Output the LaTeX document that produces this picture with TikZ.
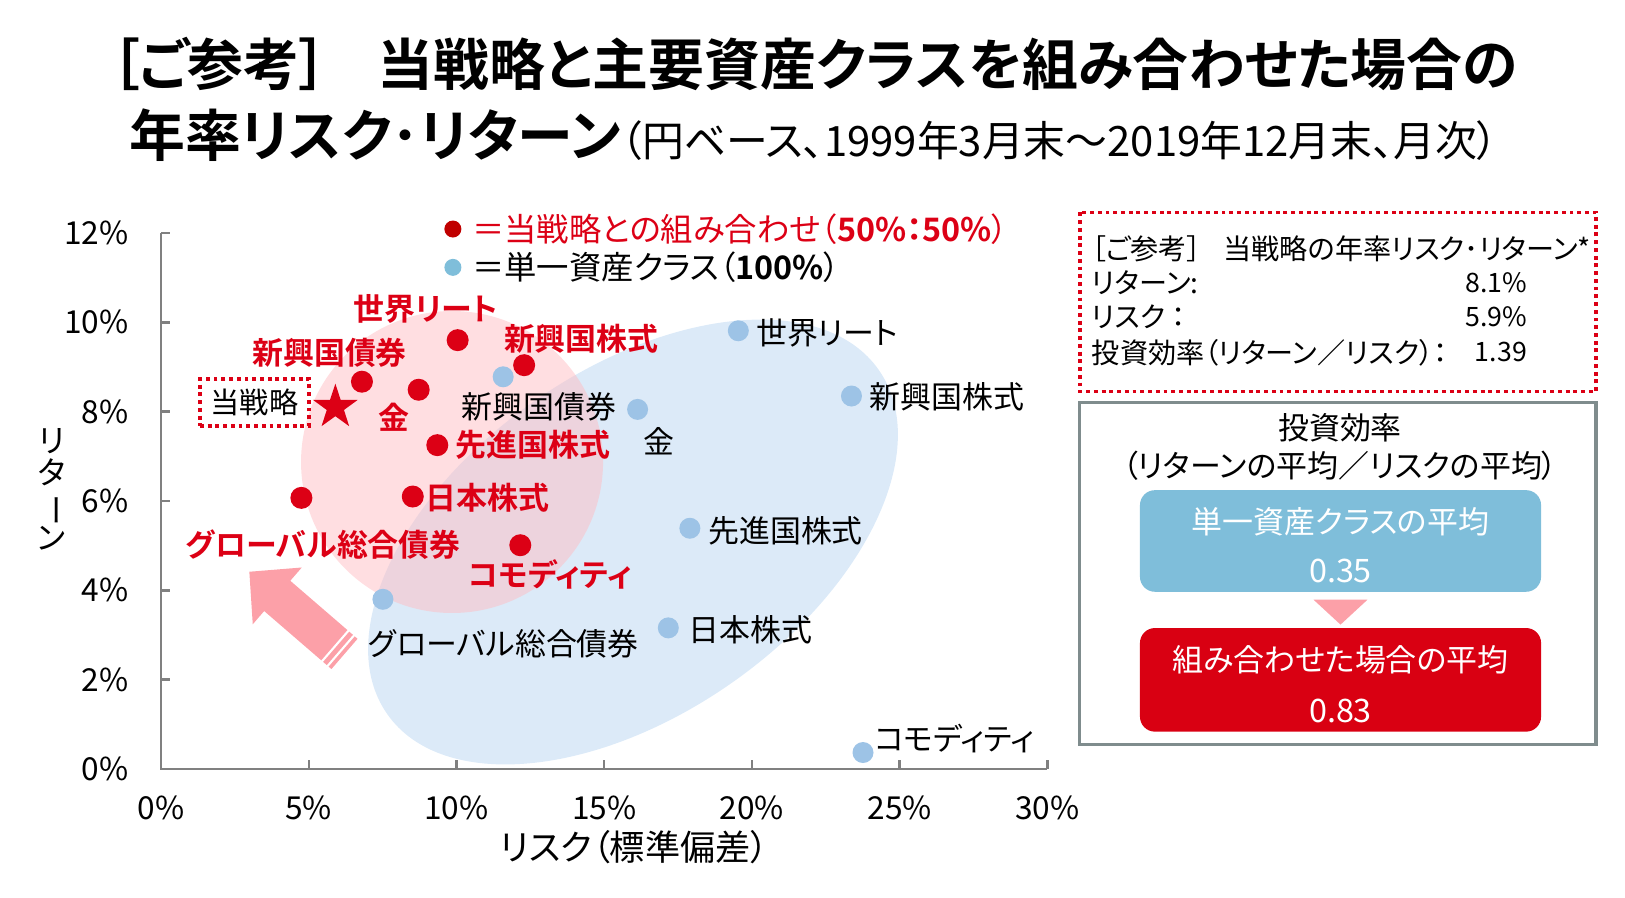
\documentclass[tikz,border=0pt]{standalone}
\usepackage{fontspec}
\setmainfont{Noto Sans CJK JP}[BoldFont={Noto Sans CJK JP Bold}, RawFeature=+palt]
\usetikzlibrary{calc,positioning,shapes.geometric}
\definecolor{aka}{RGB}{220,0,21}
\definecolor{akahanrei}{RGB}{192,0,0}
\definecolor{ao}{RGB}{157,195,230}
\definecolor{aobox}{RGB}{127,190,218}
\definecolor{akabox}{RGB}{217,0,18}
\definecolor{momo}{RGB}{252,160,168}
\definecolor{enao}{RGB}{220,234,248}
\definecolor{enaka}{RGB}{255,189,195}
\definecolor{jikuiro}{RGB}{128,128,128}
\definecolor{waku}{RGB}{127,140,141}
\newcommand{\jsz}[1]{\fontsize{#1pt}{#1pt}\selectfont}

\begin{document}
\begin{tikzpicture}[x=0.010363cm, y=-0.010363cm,
    jiku/.style={draw=jikuiro, line width=0.7pt},
    rten/.style={circle, fill=aka, inner sep=0pt, minimum size=0.22cm},
    bten/.style={circle, fill=ao, inner sep=0pt, minimum size=0.21cm},
    kuro/.style={inner sep=0pt, font=\jsz{8.8}},
    akaji/.style={inner sep=0pt, text=aka, font=\jsz{8.8}\bfseries},
    xl/.style={inner sep=0pt, yshift=-0.39cm, font=\jsz{9}},
    yl/.style={inner sep=0pt, anchor=east, xshift=-0.32cm, font=\jsz{9}},
    pan/.style={inner sep=0pt, anchor=west, font=\jsz{8}},
    atai/.style={inner sep=0pt, anchor=east, font=\jsz{7.6}},
    shiro/.style={inner sep=0pt, text=white},
    tenwaku/.style={draw=aka, line width=1pt, dash pattern=on 1.1pt off 1.1pt}]
    \useasboundingbox (0,0) rectangle (1568,865.6);

    % タイトル
    \node[font=\jsz{15.9}\bfseries] (t1) at (786,62) {［ご参考］\hspace{0.9em}当戦略と主要資産クラスを組み合わせた場合の};
    \node (t2) at (785,130) {{\jsz{15.9}\bfseries 年率リスク･リターン}{\jsz{11.9}（円ベース、1999年3月末～2019年12月末、月次）}};

    % 楕円
    \fill[enao, rotate around={35:(610.8,523)}] (610.8,523) ellipse [x radius=289.5, y radius=166];
    \fill[enaka, opacity=0.5] (436.2,445.8) circle [radius=145.7];

    % 矢印
    \fill[momo] (240.6,551.7) -- (291.2,547.6) -- (280.1,560.4) -- (345.0,616.4)
        -- (319.8,645.6) -- (254.9,589.6) -- (243.9,602.4) -- cycle;
    \draw[white, line width=0.6pt] (309.6,639.4) -- (337.1,607.6);
    \draw[white, line width=0.6pt] (314.9,644.0) -- (342.4,612.2);

    \begin{scope}[shift={(155.4,742.1)}, x=0.29535cm, y=0.44666cm]
        % 軸
        \draw[jiku] (0,12) -- (0,0) -- (30,0);
        \node[xl] (x0) at (0,0) {0\%};
        \draw[jiku] (5,0) -- ++(0,0.09cm); \node[xl] (x5) at (5,0) {5\%};
        \draw[jiku] (10,0) -- ++(0,0.09cm); \node[xl] (x10) at (10,0) {10\%};
        \draw[jiku] (15,0) -- ++(0,0.09cm); \node[xl] (x15) at (15,0) {15\%};
        \draw[jiku] (20,0) -- ++(0,0.09cm); \node[xl] (x20) at (20,0) {20\%};
        \draw[jiku] (25,0) -- ++(0,0.09cm); \node[xl] (x25) at (25,0) {25\%};
        \draw[jiku] (30,0) -- ++(0,0.09cm); \node[xl] (x30) at (30,0) {30\%};
        \node[yl] (y0) at (0,0) {0\%};
        \draw[jiku] (0,2) -- ++(0.09cm,0); \node[yl] (y2) at (0,2) {2\%};
        \draw[jiku] (0,4) -- ++(0.09cm,0); \node[yl] (y4) at (0,4) {4\%};
        \draw[jiku] (0,6) -- ++(0.09cm,0); \node[yl] (y6) at (0,6) {6\%};
        \draw[jiku] (0,8) -- ++(0.09cm,0); \node[yl] (y8) at (0,8) {8\%};
        \draw[jiku] (0,10) -- ++(0.09cm,0); \node[yl] (y10) at (0,10) {10\%};
        \draw[jiku] (0,12) -- ++(0.09cm,0); \node[yl] (y12) at (0,12) {12\%};

        % 単一資産クラス
        \node[bten] (bW) at (19.54,9.81) {};
        \node[bten] (bEE) at (23.37,8.35) {};
        \node[bten] (bEB) at (11.58,8.78) {};
        \node[bten] (bG) at (16.13,8.05) {};
        \node[bten] (bDE) at (17.9,5.39) {};
        \node[bten] (bGB) at (7.51,3.8) {};
        \node[bten] (bJE) at (17.17,3.16) {};
        \node[bten] (bC) at (23.76,0.37) {};

        % 組み合わせ
        \node[rten] (rW) at (10.04,9.6) {};
        \node[rten] (rEE) at (12.29,9.04) {};
        \node[rten] (rEB) at (6.8,8.67) {};
        \node[rten] (rG) at (8.72,8.49) {};
        \node[rten] (rDE) at (9.35,7.25) {};
        \node[rten] (rGB) at (4.75,6.07) {};
        \node[rten] (rJE) at (8.52,6.1) {};
        \node[rten] (rC) at (12.16,5.01) {};
        \node[star, star points=5, star point ratio=2.6, fill=aka, inner sep=0pt, minimum size=0.47cm] (hoshi) at (5.9,8.1) {};
    \end{scope}

    % 軸ラベル
    \node[font=\jsz{10}] (xt) at (612,817) {リスク（標準偏差）};
    \node[font=\fontsize{9pt}{9.2pt}\selectfont, align=center] (yt) at (50,472) {リ\\タ\\\rotatebox[origin=c]{-90}{ー}\\ン};

    % ラベル（赤）
    \node[akaji] (lrW) at (411,298) {世界リート};
    \node[akaji] (lrEB) at (318,340) {新興国債券};
    \node[akaji] (lrEE) at (561,327) {新興国株式};
    \node[akaji] (lrG) at (380,403) {金};
    \node[akaji] (lrDE) at (514,429) {先進国株式};
    \node[akaji] (lrJE) at (470,480) {日本株式};
    \node[akaji] (lrGB) at (312,526) {グローバル総合債券};
    \node[akaji] (lrC) at (531,554) {コモディティ};
    % ラベル（黒）
    \node[kuro] (lbW) at (798,321) {世界リート};
    \node[kuro] (lbEE) at (914,383) {新興国株式};
    \node[kuro] (lbEB) at (520,393) {新興国債券};
    \node[kuro] (lbG) at (636,426) {金};
    \node[kuro] (lbDE) at (758,512) {先進国株式};
    \node[kuro] (lbJE) at (724,608) {日本株式};
    \node[kuro] (lbGB) at (486,621) {グローバル総合債券};
    \node[kuro] (lbC) at (921,713) {コモディティ};

    \node[tenwaku, minimum width=1.09cm, minimum height=0.47cm, inner sep=0pt, font=\jsz{8.3}] (senryaku) at (245.5,388.5) {当戦略};

    % 凡例
    \node[circle, fill=akahanrei, inner sep=0pt, minimum size=0.17cm] (hr) at (437,221) {};
    \node[inner sep=0pt, anchor=west, text=aka, font=\jsz{9.2}] (hrt) at (455,221) {＝当戦略との組み合わせ（\textbf{50\%：50\%}）};
    \node[circle, fill=aobox, inner sep=0pt, minimum size=0.17cm] (hb) at (437,258) {};
    \node[inner sep=0pt, anchor=west, font=\jsz{9.2}] (hbt) at (455,258) {＝単一資産クラス（\textbf{100\%}）};

    % 当戦略の年率リスク・リターン
    \draw[tenwaku] (1042,205) rectangle (1540,378);
    \node[pan] (p1) at (1053,240) {［ご参考］\hspace{0.8em}当戦略の年率リスク･リターン*};
    \node[pan] (p2) at (1053,273) {リターン:};
    \node[atai] (v2) at (1474,273) {8.1\%};
    \node[pan] (p3) at (1053,306) {リスク ：};
    \node[atai] (v3) at (1474,306) {5.9\%};
    \node[pan] (p4) at (1053,340) {投資効率（リターン／リスク）：};
    \node[atai] (v4) at (1474,340) {1.39};

    % 投資効率
    \draw[draw=waku, line width=0.9pt] (1042,388) rectangle (1540,718);
    \node[font=\jsz{8.8}] (kk) at (1293,413) {投資効率};
    \node[font=\jsz{8.8}] (kk2) at (1293,449) {（リターンの平均／リスクの平均）};
    \node[fill=aobox, rounded corners=0.15cm, minimum width=4.01cm, minimum height=1.016cm, inner sep=0pt] (heikin1) at (1293.5,522) {};
    \node[shiro, font=\jsz{8.8}] (h1a) at (1293.5,503) {単一資産クラスの平均};
    \node[shiro, font=\jsz{9.2}] (h1b) at (1293.5,551) {0.35};
    \fill[momo] ($(heikin1.south)+(-26,7)$) -- ($(heikin1.south)+(26,7)$) -- ($(heikin1.south)+(0,31)$) -- cycle;
    \node[fill=akabox, rounded corners=0.15cm, minimum width=4.01cm, minimum height=1.036cm, inner sep=0pt] (heikin2) at (1293.5,656) {};
    \node[shiro, font=\jsz{8.8}] (h2a) at (1293.5,637) {組み合わせた場合の平均};
    \node[shiro, font=\jsz{9.2}] (h2b) at (1293.5,686) {0.83};
\end{tikzpicture}
\end{document}
